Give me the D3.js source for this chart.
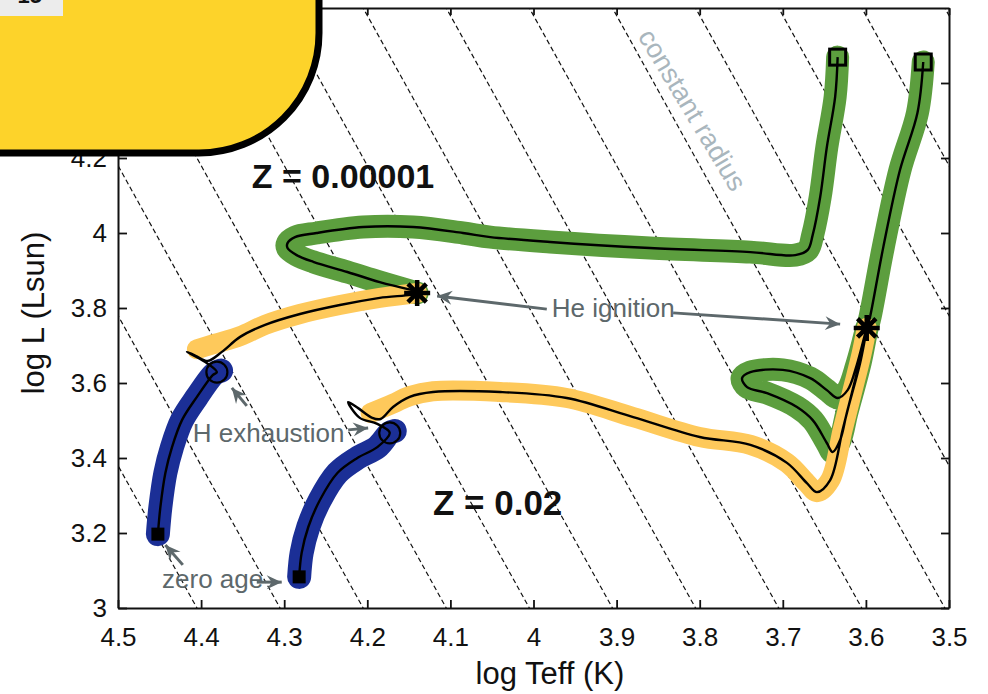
<!DOCTYPE html>
<html>
<head>
<meta charset="utf-8">
<script src="https://cdn.jsdelivr.net/npm/d3@7"></script>
<style>
  body { margin: 0; background: #fff; }
  svg { display: block; font-family: "Liberation Sans", Arial, Helvetica, sans-serif; }
</style>
</head>
<body>
<div id="chart"></div>
<script>
// ============================================================================
// DATA - evolutionary tracks in (log Teff, log L)
// ============================================================================
// Z = 0.00001 track
const ms1 = [[4.452, 3.197], [4.449, 3.269], [4.443, 3.36], [4.435, 3.429], [4.423, 3.501],
             [4.405, 3.563], [4.386, 3.621], [4.381, 3.629]];
const hook1 = [[4.395, 3.656], [4.417, 3.683], [4.406, 3.672], [4.392, 3.659]];
const sg1 = [[4.375, 3.683], [4.353, 3.723], [4.323, 3.755], [4.281, 3.784], [4.233, 3.808],
             [4.185, 3.827], [4.140, 3.84]];
const sgBand1 = [[4.405, 3.69], [4.383, 3.705], [4.353, 3.725], [4.323, 3.755], [4.281, 3.784],
                 [4.233, 3.808], [4.185, 3.827], [4.140, 3.84]];
const he1 = [[4.140, 3.84], [4.185, 3.869], [4.224, 3.896], [4.265, 3.923], [4.285, 3.941],
             [4.296, 3.96], [4.296, 3.973], [4.287, 3.989], [4.261, 4.0], [4.205, 4.016],
             [4.145, 4.016], [4.085, 4.0], [4.052, 3.989], [3.980, 3.976], [3.860, 3.96],
             [3.739, 3.949], [3.685, 3.941], [3.670, 3.955], [3.664, 3.995], [3.655, 4.096],
             [3.647, 4.229], [3.637, 4.363], [3.634, 4.469]];

// Z = 0.02 track
const ms2 = [[4.282, 3.083], [4.279, 3.147], [4.271, 3.216], [4.257, 3.288], [4.236, 3.36],
             [4.212, 3.4], [4.188, 3.429], [4.173, 3.467]];
const hook2 = [[4.188, 3.491], [4.209, 3.507], [4.223, 3.549], [4.211, 3.533], [4.194, 3.507],
               [4.184, 3.504]];
const sg2 = [[4.169, 3.536], [4.149, 3.563], [4.121, 3.576], [4.040, 3.576], [3.960, 3.56],
             [3.880, 3.509], [3.800, 3.456], [3.739, 3.435], [3.695, 3.387], [3.671, 3.333],
             [3.659, 3.309], [3.643, 3.341], [3.628, 3.475], [3.616, 3.581], [3.605, 3.68],
             [3.599, 3.747]];
const sgBand2 = [[4.196, 3.52], [4.169, 3.545], [4.149, 3.565], [4.121, 3.578]].concat(sg2.slice(3));
const he2 = [[3.599, 3.747], [3.611, 3.648], [3.622, 3.581], [3.634, 3.56], [3.647, 3.581],
             [3.667, 3.613], [3.700, 3.635], [3.739, 3.629], [3.749, 3.613], [3.743, 3.589],
             [3.719, 3.573], [3.683, 3.536], [3.664, 3.501], [3.647, 3.44], [3.640, 3.416],
             [3.631, 3.448], [3.623, 3.52], [3.607, 3.653], [3.599, 3.741], [3.595, 3.776],
             [3.579, 3.963], [3.559, 4.168], [3.538, 4.32], [3.531, 4.456]];

// markers
const zeroAgePts = [[4.452, 3.197], [4.282, 3.083]];
const hExhaustPts = [[4.381, 3.629], [4.173, 3.467]];
const heIgnitionPts = [[4.140, 3.84], [3.599, 3.747]];
const endPts = [[3.634, 4.469], [3.531, 4.456]];

// constant radius lines: log Teff where each line crosses log L = 3
const radiusT0 = [3.1, 3.2, 3.3, 3.4, 3.5, 3.6, 3.7, 3.8, 3.9, 4.0, 4.1, 4.2, 4.3, 4.4, 4.5];

// ticks
const xTickVals = [4.5, 4.4, 4.3, 4.2, 4.1, 4.0, 3.9, 3.8, 3.7, 3.6, 3.5];
const yTickVals = [3, 3.2, 3.4, 3.6, 3.8, 4.0, 4.2, 4.4];

// annotations (arrows: [from, to] in data units)
const heArrows = [[[3.984, 3.797], [4.116, 3.832]], [[3.832, 3.787], [3.631, 3.757]]];
const hArrows = [[[4.345, 3.539], [4.363, 3.587]], [[4.223, 3.475], [4.199, 3.48]]];
const zeroArrows = [[[4.422, 3.115], [4.443, 3.168]], [[4.333, 3.069], [4.303, 3.069]]];

// ============================================================================
// SETUP
// ============================================================================
const width = 988, height = 694;
const svg = d3.select('#chart').append('svg')
    .attr('width', width).attr('height', height);

const x = d3.scaleLinear().domain([4.5, 3.5]).range([118, 949]);
const y = d3.scaleLinear().domain([3, 4.6]).range([608, 8]);

const defs = svg.append('defs');
defs.append('clipPath').attr('id', 'plot-clip')
    .append('rect')
    .attr('x', x(4.5)).attr('y', y(4.6))
    .attr('width', x(3.5) - x(4.5)).attr('height', y(3) - y(4.6));

defs.append('marker')
    .attr('id', 'arrow')
    .attr('viewBox', '-16 -8 17 16')
    .attr('refX', 0).attr('refY', 0)
    .attr('markerWidth', 17).attr('markerHeight', 16)
    .attr('markerUnits', 'userSpaceOnUse')
    .attr('orient', 'auto')
    .append('path')
    .attr('d', 'M0,0 L-15,-7 L-10,0 L-15,7 Z')
    .attr('fill', '#5d686b');

const line = d3.line()
    .x(d => x(d[0])).y(d => y(d[1]))
    .curve(d3.curveCatmullRom.alpha(0.5));

// ============================================================================
// CONSTANT RADIUS LINES
// ============================================================================
const plot = svg.append('g').attr('clip-path', 'url(#plot-clip)');
plot.selectAll('.radius')
    .data(radiusT0)
    .enter().append('line')
    .attr('x1', d => x(d + 0.005 - 0.1)).attr('y1', y(3 - 0.4))
    .attr('x2', d => x(d + 0.005 + 0.5)).attr('y2', y(3 + 2.0))
    .attr('stroke', '#111').attr('stroke-width', 1.2)
    .attr('stroke-dasharray', '5,3');

svg.append('text')
    .attr('transform', `translate(${x(3.809)},${y(4.328)}) rotate(59)`)
    .attr('text-anchor', 'middle').attr('dominant-baseline', 'central')
    .style('font-size', '27px').attr('fill', '#a9b6bd')
    .text('constant radius');

// ============================================================================
// TRACK BANDS - green (He burning), yellow (shell H), blue (main sequence)
// ============================================================================
const bands = [
    { pts: he1, color: '#5c9e3e', w: 23 },
    { pts: he2, color: '#5c9e3e', w: 23 },
    { pts: sgBand1, color: '#fec95b', w: 20 },
    { pts: sgBand2, color: '#fec95b', w: 20 },
    { pts: ms1.concat([[4.376, 3.633]]), color: '#1b2f96', w: 24 },
    { pts: ms2.concat([[4.167, 3.472]]), color: '#1b2f96', w: 24 }
];
plot.selectAll('.band')
    .data(bands)
    .enter().append('path')
    .attr('d', d => line(d.pts))
    .attr('fill', 'none')
    .attr('stroke', d => d.color)
    .attr('stroke-width', d => d.w)
    .attr('stroke-linecap', 'round')
    .attr('stroke-linejoin', 'round');

// black track lines
const tracks = [
    ms1.concat(hook1, sg1, he1.slice(1)),
    ms2.concat(hook2, sg2, he2.slice(1))
];
plot.selectAll('.track')
    .data(tracks)
    .enter().append('path')
    .attr('d', d => line(d))
    .attr('fill', 'none')
    .attr('stroke', '#000')
    .attr('stroke-width', 2.4)
    .attr('stroke-linejoin', 'round');

// ============================================================================
// MARKERS
// ============================================================================
svg.selectAll('.zams')
    .data(zeroAgePts)
    .enter().append('rect')
    .attr('x', d => x(d[0]) - 6.5).attr('y', d => y(d[1]) - 6.5)
    .attr('width', 13).attr('height', 13)
    .attr('fill', '#000');

svg.selectAll('.hexh')
    .data(hExhaustPts)
    .enter().append('circle')
    .attr('cx', d => x(d[0])).attr('cy', d => y(d[1]))
    .attr('r', 10.5)
    .attr('fill', 'none').attr('stroke', '#000').attr('stroke-width', 2.2);

svg.selectAll('.heign')
    .data(heIgnitionPts)
    .enter().append('path')
    .attr('d', d => {
        const p = d3.path(), cx = x(d[0]), cy = y(d[1]), r = 13;
        [0, 45, 90, 135].forEach(a => {
            const t = a * Math.PI / 180;
            p.moveTo(cx - r * Math.cos(t), cy - r * Math.sin(t));
            p.lineTo(cx + r * Math.cos(t), cy + r * Math.sin(t));
        });
        return p.toString();
    })
    .attr('stroke', '#000').attr('stroke-width', 4.5);

svg.selectAll('.end')
    .data(endPts)
    .enter().append('rect')
    .attr('x', d => x(d[0]) - 8).attr('y', d => y(d[1]) - 8)
    .attr('width', 16).attr('height', 16)
    .attr('fill', 'none').attr('stroke', '#000').attr('stroke-width', 3);

// ============================================================================
// AXES - ticks on all four sides, pointing inward
// ============================================================================
const fmt = d3.format('~g');
const gx = svg.append('g')
    .attr('transform', `translate(0,${y(3)})`)
    .call(d3.axisBottom(x).tickValues(xTickVals).tickFormat(fmt)
        .tickSizeInner(-8).tickSizeOuter(0).tickPadding(20));
const gy = svg.append('g')
    .attr('transform', `translate(${x(4.5)},0)`)
    .call(d3.axisLeft(y).tickValues(yTickVals).tickFormat(fmt)
        .tickSizeInner(-9).tickSizeOuter(0).tickPadding(11));
const gt = svg.append('g')
    .attr('transform', `translate(0,${y(4.6)})`)
    .call(d3.axisTop(x).tickValues(xTickVals).tickFormat('')
        .tickSizeInner(-7).tickSizeOuter(0));
const gr = svg.append('g')
    .attr('transform', `translate(${x(3.5)},0)`)
    .call(d3.axisRight(y).tickValues(yTickVals).tickFormat('')
        .tickSizeInner(-8).tickSizeOuter(0));

[gx, gy, gt, gr].forEach(g => {
    g.select('.domain').attr('stroke', '#111').attr('stroke-width', 2);
    g.selectAll('.tick line').attr('stroke', '#111').attr('stroke-width', 1.8);
    g.selectAll('.tick text')
        .attr('fill', '#111')
        .style('font-size', '26px')
        .style('font-family', '"Liberation Sans", Arial, sans-serif');
});

svg.append('text')
    .attr('x', 550).attr('y', 684)
    .attr('text-anchor', 'middle')
    .style('font-size', '31px').attr('fill', '#111')
    .text('log Teff (K)');

svg.append('text')
    .attr('transform', 'translate(44,313) rotate(-90)')
    .attr('text-anchor', 'middle')
    .style('font-size', '31px').attr('fill', '#111')
    .text('log L (Lsun)');

// ============================================================================
// ANNOTATIONS
// ============================================================================
const notes = svg.append('g').attr('fill', '#5d686b').style('font-size', '26px');
notes.append('text').attr('x', x(3.978)).attr('y', y(3.776)).text('He ignition');
notes.append('text').attr('x', x(4.410)).attr('y', y(3.443)).text('H exhaustion');
notes.append('text').attr('x', x(4.447)).attr('y', y(3.053)).text('zero age');

svg.selectAll('.arrow')
    .data(heArrows.concat(hArrows, zeroArrows))
    .enter().append('line')
    .attr('x1', d => x(d[0][0])).attr('y1', d => y(d[0][1]))
    .attr('x2', d => x(d[1][0])).attr('y2', d => y(d[1][1]))
    .attr('stroke', '#5d686b').attr('stroke-width', 3)
    .attr('marker-end', 'url(#arrow)');

svg.append('text')
    .attr('x', x(4.339)).attr('y', y(4.12))
    .style('font-size', '34px').style('font-weight', 'bold').attr('fill', '#111')
    .text('Z = 0.00001');
svg.append('text')
    .attr('x', x(4.121)).attr('y', y(3.248))
    .style('font-size', '35px').style('font-weight', 'bold').attr('fill', '#111')
    .text('Z = 0.02');

// ============================================================================
// OVERLAY - yellow rounded panel in the top-left corner
// ============================================================================
svg.append('path')
    .attr('d', 'M-10,-10 H319 V33 A120,120 0 0 1 199,153 H-10 Z')
    .attr('fill', '#fdd32a')
    .attr('stroke', '#000').attr('stroke-width', 7);
svg.append('rect')
    .attr('x', 0).attr('y', 0).attr('width', 63).attr('height', 16)
    .attr('fill', '#ececec');
svg.append('text')
    .attr('x', 42).attr('y', 3)
    .attr('text-anchor', 'end')
    .style('font-size', '22px').style('font-weight', 'bold').attr('fill', '#111')
    .text('15');
</script>
</body>
</html>
